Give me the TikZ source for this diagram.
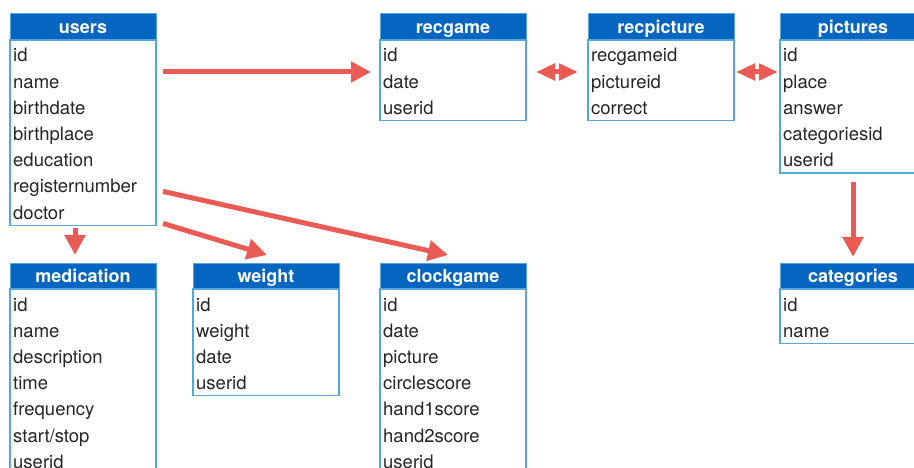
\documentclass[tikz,border=0pt]{standalone}
\usepackage{fontspec}
\setmainfont{TeX Gyre Heros}
\usetikzlibrary{arrows.meta,calc}

\definecolor{headblue}{RGB}{4,102,192}
\definecolor{frameblue}{RGB}{85,166,220}
\definecolor{relred}{RGB}{234,91,85}

\tikzset{
  tabhead/.style={draw=frameblue, line width=1pt, fill=headblue, text=white,
    font=\fontsize{18}{20}\selectfont\bfseries, minimum width=146pt,
    text height=19.5pt, text depth=6.5pt, inner sep=0pt, outer sep=0pt,
    anchor=north west},
  tabbody/.style={draw=frameblue, line width=1.2pt, fill=white,
    minimum width=146pt, inner sep=0pt, outer sep=0pt, anchor=north west},
  fieldtxt/.style={font=\fontsize{18.5}{22}\selectfont, text=black!85,
    inner sep=0pt, anchor=base west},
  rel/.style={draw=relred, line width=5pt, -{Triangle[width=20pt,length=20pt]}},
  relboth/.style={draw=relred, line width=5pt,
    {Triangle[width=16pt,length=19pt]}-{Triangle[width=16pt,length=19pt]}},
}

% table: name, x, y, number of fields, title, fields
\newcommand{\dbtable}[6]{%
  \node[tabhead] (#1-h) at (#2,#3) {#5};
  \node[tabbody, minimum height={26.2*#4+2}] (#1) at (#1-h.south west) {};
  \foreach \f [count=\i] in {#6}
    \node[fieldtxt] (#1-\i) at ($(#1.north west)+(3,{22+26.2*(\i-1)})$) {\f};
}

\begin{document}
\begin{tikzpicture}[x=1pt,y=-1pt]
        %page size of the screenshot
        \useasboundingbox (0,0) rectangle (914,468);
        \clip (0,0) rectangle (914,468);

        % top row of tables
        \dbtable{users}{10}{14}{7}{users}{id,name,birthdate,birthplace,education,registernumber,doctor}
        \dbtable{recgame}{380}{14}{3}{recgame}{id,date,userid}
        \dbtable{recpicture}{588}{14}{3}{recpicture}{recgameid,pictureid,correct}
        \dbtable{pictures}{780}{14}{5}{pictures}{id,place,answer,categoriesid,userid}

        % bottom row of tables
        \dbtable{medication}{10}{263}{7}{medication}{id,name,description,time,frequency,start/stop,userid}
        \dbtable{weight}{193}{263}{4}{weight}{id,weight,date,userid}
        \dbtable{clockgame}{380}{263}{7}{clockgame}{id,date,picture,circlescore,hand1score,hand2score,userid}
        \dbtable{categories}{780}{263}{2}{categories}{id,name}

        % relations along the top
        \draw[rel] ($(users.north east)+(7,32)$) -- ($(recgame.north west)+(-9,32)$);
        \draw[relboth] ($(recgame.north east)+(10,32)$) -- ($(recpicture.north west)+(-10,32)$);
        \draw[relboth] ($(recpicture.north east)+(2,32)$) -- ($(pictures.north west)+(-2,32)$);
        \draw[rel] ($(pictures.south)+(0,9)$) -- ($(categories-h.north)+(0,-6)$);

        % relations from users down
        \draw[rel] ($(users.south west)+(65,3)$) -- ($(medication-h.north west)+(65,-8)$);
        \draw[rel] ($(users.south east)+(7,-2)$) -- ($(weight-h.north)+(1,-8)$);
        \draw[rel] ($(users.south east)+(7,-34)$) -- ($(clockgame-h.north)+(-5,-8)$);
\end{tikzpicture}
\end{document}
